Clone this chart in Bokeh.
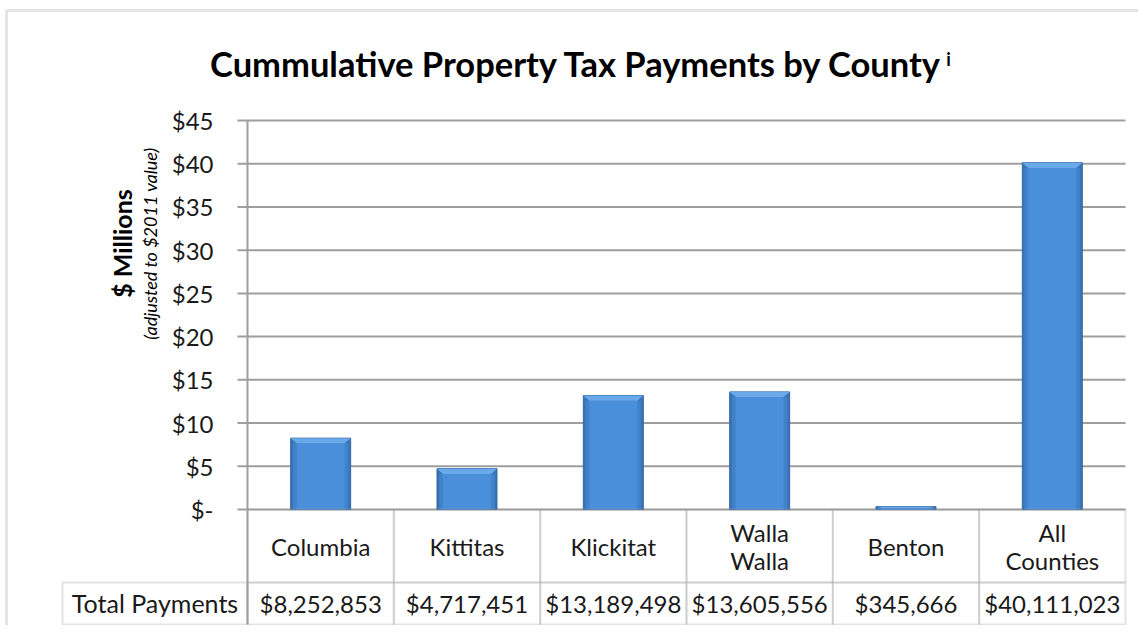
import math
from bokeh.plotting import figure
from bokeh.models import Range1d, Label, BoxAnnotation
from bokeh.core.properties import value
from bokeh.embed import file_html
from bokeh.resources import INLINE

# ---- data ----
categories = ["Columbia", "Kittitas", "Klickitat", "Walla Walla", "Benton", "All Counties"]
category_labels = ["Columbia", "Kittitas", "Klickitat", "Walla\nWalla", "Benton", "All\nCounties"]
payments = [8252853, 4717451, 13189498, 13605556, 345666, 40111023]
payment_labels = ["$8,252,853", "$4,717,451", "$13,189,498", "$13,605,556", "$345,666", "$40,111,023"]
y_ticks = [0, 5, 10, 15, 20, 25, 30, 35, 40, 45]
y_tick_labels = ["$-", "$5", "$10", "$15", "$20", "$25", "$30", "$35", "$40", "$45"]
row_label = "Total Payments"
title_text = "Cummulative Property Tax Payments by County"
title_sup = "i"
y_label = "$ Millions"
y_sublabel = "(adjusted to $2011 value)"

millions = [v / 1e6 for v in payments]
n = len(categories)
centers = [i + 0.5 for i in range(n)]          # one table column per category
y_max = y_ticks[-1]

FONT = "Lato"
GRID = "#9e9e9e"
TXT = "#1a1a1a"

# ---- layout (data units: 1 x-unit = one table column, y-units = $ millions) ----
PX_X = 146.33   # pixels per column
PX_Y = 8.644    # pixels per $1M
X_RANGE = (-1.688, 6.089)
Y_RANGE = (-13.42, 58.88)
ROW1_BOTTOM = -8.445
TABLE_BOTTOM = -13.30
ROW1_MID = -4.25
ROW2_MID = -10.87
ROWLABEL_LEFT = -1.264

p = figure(
    x_range=Range1d(*X_RANGE), y_range=Range1d(*Y_RANGE),
    width=1138, height=625,
    output_backend="svg", toolbar_location=None,
    x_axis_location=None, y_axis_location=None,
    min_border=0,
)
p.outline_line_color = None
p.grid.visible = False
p.background_fill_color = "white"
p.border_fill_color = "white"

# ---- value axis: gridlines, ticks, tick labels, axis line ----
p.segment(x0=[0] * len(y_ticks), x1=[n] * len(y_ticks), y0=y_ticks, y1=y_ticks,
          line_color=GRID, line_width=2)
p.segment(x0=[-10 / PX_X] * len(y_ticks), x1=[0] * len(y_ticks), y0=y_ticks, y1=y_ticks,
          line_color=GRID, line_width=2)
p.segment(x0=[0], x1=[0], y0=[y_max], y1=[TABLE_BOTTOM], line_color=GRID, line_width=2)
p.text(x=[-34 / PX_X] * len(y_ticks), y=y_ticks, text=y_tick_labels,
       text_align="right", text_baseline="middle", text_font=value(FONT),
       text_font_size="24px", text_color=TXT)

# ---- bars (beveled look) ----
BW = 0.41
BEVEL = 0.6
bev = [min(BEVEL, m / 2) for m in millions]
inner_top = [m - b for m, b in zip(millions, bev)]
p.vbar(x=centers, top=millions, width=BW, fill_color="#3a74b8", line_color="#3467a3", line_width=1)
p.vbar(x=centers, top=inner_top, width=BW * 0.92, fill_color="#4282cb", line_color=None)
p.vbar(x=centers, top=inner_top, width=BW * 0.8, fill_color="#4a8fd9", line_color=None)
p.patches(
    xs=[[c - BW / 2, c + BW / 2, c + BW * 0.4, c - BW * 0.4] for c in centers],
    ys=[[m, m, m - b, m - b] for m, b in zip(millions, bev)],
    fill_color="#69a9e9", line_color=None)

# ---- data table ----
p.text(x=centers, y=[ROW1_MID] * n, text=category_labels,
       text_align="center", text_baseline="middle", text_font=value(FONT),
       text_font_size="24px", text_color=TXT, text_line_height=0.97)
p.text(x=centers, y=[ROW2_MID] * n, text=payment_labels,
       text_align="center", text_baseline="middle", text_font=value(FONT),
       text_font_size="24px", text_color=TXT)

def cell(l, r, t, b):
    p.add_layout(BoxAnnotation(left=l, right=r, top=t, bottom=b, fill_color=None, fill_alpha=0,
                               line_color=GRID, line_width=2))

for i in range(n):
    cell(i, i + 1, 0, ROW1_BOTTOM)
    cell(i, i + 1, ROW1_BOTTOM, TABLE_BOTTOM)
cell(ROWLABEL_LEFT, 0, ROW1_BOTTOM, TABLE_BOTTOM)

p.text(x=[ROWLABEL_LEFT / 2], y=[ROW2_MID], text=[row_label], text_align="center",
       text_baseline="middle", text_font=value(FONT), text_font_size="25px", text_color=TXT)

# ---- titles ----
p.add_layout(Label(x=2.248, y=51.6, text=title_text, text_align="center", text_baseline="middle",
                   text_font=FONT, text_font_size="34.5px", text_font_style="bold", text_color="black"))
p.add_layout(Label(x=4.775, y=52.1, text=title_sup, text_align="left", text_baseline="middle",
                   text_font=FONT, text_font_size="18px", text_font_style="bold", text_color="black"))
p.add_layout(Label(x=-0.861, y=30.77, text=y_label, angle=math.pi / 2, text_align="center",
                   text_baseline="middle", text_font=FONT, text_font_size="25px",
                   text_font_style="bold", text_color="black"))
p.add_layout(Label(x=-0.663, y=30.77, text=y_sublabel, angle=math.pi / 2, text_align="center",
                   text_baseline="middle", text_font=FONT, text_font_size="18px",
                   text_font_style="italic", text_color="black"))

# ---- outer chart border ----
p.add_layout(BoxAnnotation(left=-1.647, right=X_RANGE[1] + 1, top=57.73, bottom=Y_RANGE[0] - 5,
                           fill_color=None, fill_alpha=0, line_color="#a6a6a6", line_width=3))

open("out.html", "w").write(file_html(p, INLINE))
